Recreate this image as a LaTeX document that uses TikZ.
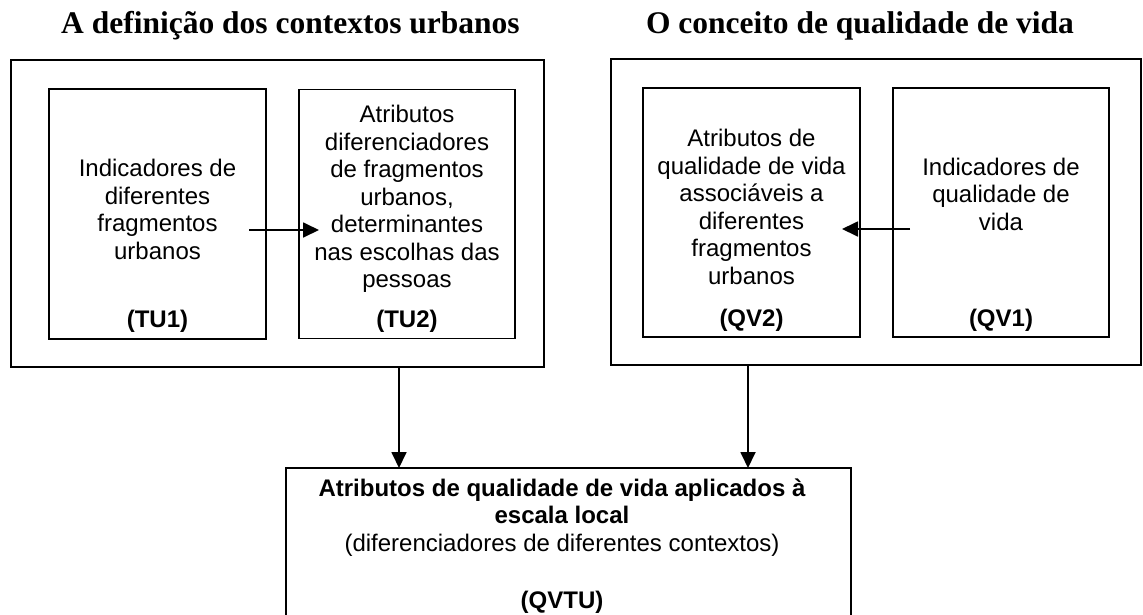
\documentclass[tikz,border=0pt]{standalone}
\usepackage{fontspec}
\setmainfont{Liberation Sans}
\newfontfamily\titlefont{Liberation Serif}
\usetikzlibrary{arrows.meta,calc}
\newcommand\firstln{\rule{0pt}{20pt}}
\begin{document}
\begin{tikzpicture}[x=1pt,y=-1pt,
  box/.style={draw, line width=1.8pt, inner sep=0pt, outer sep=0pt},
  arr/.style={line width=1.8pt, -{Triangle[length=16pt,width=15pt]}},
  txt/.style={align=center, inner sep=0pt, anchor=north, font=\fontsize{24}{27.5}\selectfont},
  lbl/.style={inner sep=0pt, anchor=base, font=\fontsize{24}{27.5}\selectfont\bfseries},
  ttl/.style={inner sep=0pt, anchor=base, font=\titlefont\fontsize{31.5}{36}\selectfont\bfseries}]
\clip (0,0) rectangle (1143,614);
\fill[white] (0,0) rectangle (1143,614);
% titles
\node[ttl] (t1) at (290.5,33) {A definição dos contextos urbanos};
\node[ttl] (t2) at (860,33) {O conceito de qualidade de vida};
% outer boxes
\node[box, minimum width=533pt, minimum height=307pt] (outL) at (277.5,213.5) {};
\node[box, minimum width=530pt, minimum height=306pt] (outR) at (876,212) {};
% inner boxes
\node[box, minimum width=217pt, minimum height=250pt] (tu1) at (157.5,214) {};
\node[box, minimum width=216pt, minimum height=249pt] (tu2) at (407,214) {};
\node[box, minimum width=217pt, minimum height=249pt] (qv2) at (751.5,212.5) {};
\node[box, minimum width=216pt, minimum height=249pt] (qv1) at (1001,212.5) {};
% bottom box
\node[box, minimum width=565pt, minimum height=182pt] (bot) at (568.5,559) {};
% texts
\node[txt] (tu1t) at (157.5,156.7) {\firstln Indicadores de\\ diferentes\\ fragmentos\\ urbanos};
\node[txt] (tu2t) at (407,102.7) {\firstln Atributos\\ diferenciadores\\ de fragmentos\\ urbanos,\\ determinantes\\ nas escolhas das\\ pessoas};
\node[txt] (qv2t) at (751.5,126.7) {\firstln Atributos de\\ qualidade de vida\\ associáveis a\\ diferentes\\ fragmentos\\ urbanos};
\node[txt] (qv1t) at (1001,155) {\firstln Indicadores de\\ qualidade de\\ vida};
\node[lbl] (tu1l) at (157.5,327) {(TU1)};
\node[lbl] (tu2l) at (407,327) {(TU2)};
\node[lbl] (qv2l) at (751.5,326) {(QV2)};
\node[lbl] (qv1l) at (1001,326) {(QV1)};
\node[txt] (bott) at (562,476) {\firstln\textbf{Atributos de qualidade de vida aplicados à}\\ \textbf{escala local}\\ (diferenciadores de diferentes contextos)};
\node[lbl] (botl) at (562,608) {(QVTU)};
% arrows
\coordinate (a1s) at (249,230);
\coordinate (a1e) at (319,230);
\coordinate (a2s) at (910,229);
\coordinate (a2e) at (842,229);
\draw[arr] (a1s) -- (a1e);
\draw[arr] (a2s) -- (a2e);
\coordinate (vL) at (399,0);
\coordinate (vR) at (748,0);
\draw[arr] (outL.south -| vL) -- (bot.north -| vL);
\draw[arr] (outR.south -| vR) -- (bot.north -| vR);
\end{tikzpicture}
\end{document}
